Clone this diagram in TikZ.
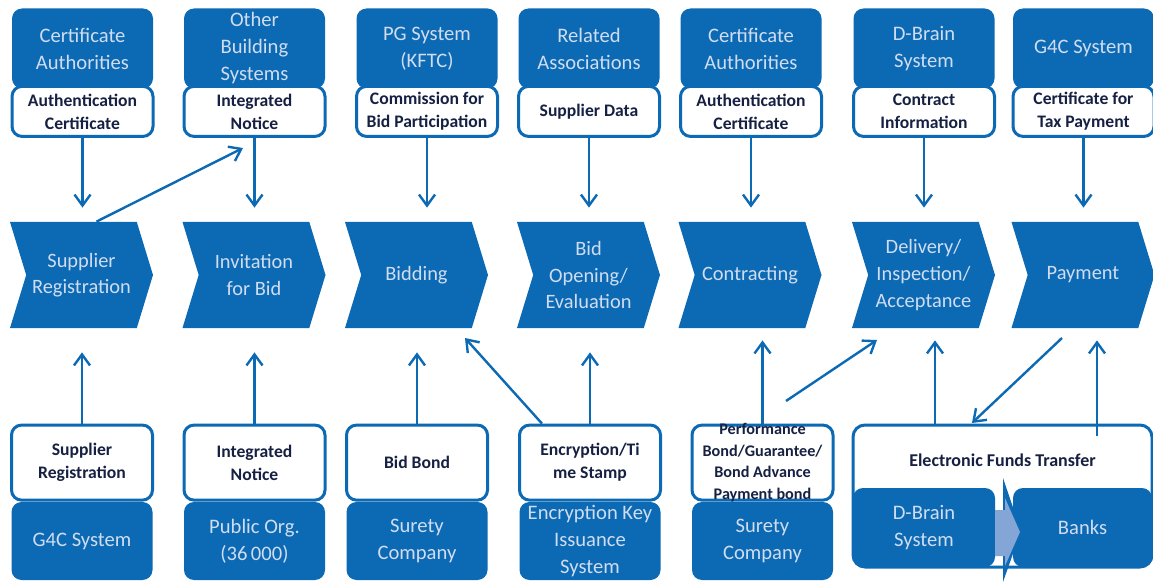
\documentclass[tikz,border=0pt]{standalone}
\usepackage{fontspec}
\setmainfont{Carlito}
\usetikzlibrary{positioning, shapes.symbols, arrows.meta}
\definecolor{procblue}{RGB}{12,105,180}
\definecolor{paletxt}{RGB}{208,221,240}
\definecolor{navytxt}{RGB}{22,32,66}
\definecolor{liteblue}{RGB}{132,166,214}
\tikzstyle{source} = [rectangle, rounded corners=5pt, minimum width=70.5pt, minimum height=40pt, inner sep=0pt, fill=procblue, text=paletxt, align=center, font=\fontsize{10.3}{13.5}\selectfont]
\tikzstyle{sink} = [rectangle, rounded corners=5pt, minimum width=70.5pt, minimum height=39pt, inner sep=0pt, fill=procblue, text=paletxt, align=center, font=\fontsize{10.3}{13.5}\selectfont]
\tikzstyle{flow} = [rectangle, rounded corners=5pt, minimum width=70.5pt, minimum height=25pt, inner sep=0pt, draw=procblue, line width=1.5pt, fill=white, text=navytxt, align=center, font=\fontsize{8.8}{11.5}\selectfont\bfseries]
\tikzstyle{flowtext} = [text=navytxt, align=center, inner sep=0pt, font=\fontsize{8.1}{10.9}\selectfont\bfseries]
\tikzstyle{stage} = [signal, signal to=east, signal from=west, signal pointer angle=146, minimum width=71.5pt, minimum height=53pt, inner sep=0pt, fill=procblue, text=paletxt, align=center, font=\fontsize{10.2}{13.3}\selectfont]
\tikzstyle{arrow} = [line width=1.2pt, draw=procblue, -{Straight Barb[length=5.5pt,width=8pt]}]

\begin{document}
\begin{tikzpicture}[x=0.5pt, y=-0.5pt]
\useasboundingbox (0,0) rectangle (1153,583);
% upper sources and what they hand over
\node (ca1) [source] at (82.5,48.5) {Certificate\\Authorities};
\node (obs) [source] at (254.5,48.5) {Other\\Building\\Systems};
\node (pgs) [source] at (427,48.5) {PG System\\(KFTC)};
\node (rass) [source] at (589,48.5) {Related\\Associations};
\node (ca2) [source] at (751,48.5) {Certificate\\Authorities};
\node (dbr1) [source] at (924,48.5) {D-Brain\\System};
\node (g4c1) [source] at (1083.5,48.5) {G4C System};
\node (auth1) [flow, below=-2pt of ca1] {Authentication\\Certificate};
\node (inot1) [flow, below=-2pt of obs] {Integrated\\Notice};
\node (comm) [flow, below=-2pt of pgs] {Commission for\\Bid Participation};
\node (sdata) [flow, below=-2pt of rass] {Supplier Data};
\node (auth2) [flow, below=-2pt of ca2] {Authentication\\Certificate};
\node (cinfo) [flow, below=-2pt of dbr1] {Contract\\Information};
\node (taxc) [flow, below=-2pt of g4c1] {Certificate for\\Tax Payment};

% process chain
\node (ch1) [stage] at (81.5,275) {Supplier\\Registration};
\node (ch2) [stage] at (254,275) {Invitation\\for Bid};
\node (ch3) [stage] at (416.5,275) {Bidding};
\node (ch4) [stage] at (588.5,275) {Bid\\Opening/\\Evaluation};
\node (ch5) [stage] at (750,275) {Contracting};
\node (ch6) [stage] at (923.5,275) {Delivery/\\Inspection/\\Acceptance};
\node (ch7) [stage] at (1083,275) {Payment};

% lower sources
\node (g4c2) [sink] at (82,541) {G4C System};
\node (porg) [sink] at (254.5,541) {Public Org.\\(36\,000)};
\node (sur1) [sink] at (417,541) {Surety\\Company};
\node (ekey) [sink] at (590,541) {Encryption Key\\Issuance\\System};
\node (sur2) [sink] at (762.5,541) {Surety\\Company};
\node (sreg) [flow, minimum height=37.5pt, above=0pt of g4c2] {Supplier\\Registration};
\node (inot2) [flow, minimum height=37.5pt, above=0pt of porg] {Integrated\\Notice};
\node (bbond) [flow, minimum height=37.5pt, above=0pt of sur1] {Bid Bond};
\node (enc) [flow, minimum height=37.5pt, above=0pt of ekey] {Encryption/Ti\\me Stamp};
\node (perf) [flow, minimum height=37.5pt, above=0pt of sur2, label={[flowtext]center:{Performance\\Bond/Guarantee/\\Bond Advance\\Payment bond}}] {};

% funds transfer
\node (eft) [rectangle, rounded corners=6pt, draw=procblue, line width=1.5pt, fill=white, minimum width=149.5pt, minimum height=71pt, label={[flowtext, font=\fontsize{9}{11}\selectfont\bfseries, yshift=18pt]center:Electronic Funds Transfer}] at (1002.5,496) {};
\node (dbr2) [sink, minimum width=71pt, minimum height=39.5pt] at (924,527.5) {D-Brain\\System};
\fill [procblue] (1003,478) -- (1021,531) -- (1003,582) -- cycle;
\node (bank) [sink, minimum width=69.5pt, minimum height=39.5pt] at (1082.5,527.5) {Banks};
\fill [liteblue] (995,510) -- (1005,510) -- (1005,498) -- (1020,532) -- (1005,566) -- (1005,556) -- (995,556) -- cycle;

% arrows down
\foreach \a/\b in {auth1/ch1, inot1/ch2, comm/ch3, sdata/ch4, auth2/ch5, cinfo/ch6, taxc/ch7}
  \draw [arrow, shorten >=7pt] (\a) -- (\a |- \b.north);
% arrows up
\foreach \a/\b in {sreg/ch1, inot2/ch2, bbond/ch3, enc/ch4}
  \draw [arrow, shorten >=12pt] (\a) -- (\a |- \b.south);
\draw [arrow, shorten >=6pt] (perf) -- (perf |- ch5.south);
\coordinate (eftl) at ([xshift=-33.75pt]eft.north);
\coordinate (eftr) at ([xshift=47.25pt, yshift=-6pt]eft.north);
\draw [arrow, shorten >=6pt] (eftl) -- (eftl |- ch6.south);
\draw [arrow, shorten >=6pt] (eftr) -- (eftr |- ch7.south);

% diagonal arrows
\coordinate (ntip) at (243,148);
\draw [arrow] ([xshift=7.5pt]ch1.north) -- (ntip);
\coordinate (btip) at (465,338);
\draw [arrow] ([xshift=-24pt]enc.north) -- (btip);
\coordinate (dstart) at (786,401);
\coordinate (dtip) at (877,340);
\draw [arrow] (dstart) -- (dtip);
\coordinate (pstart) at (1062,338);
\coordinate (ptip) at (972,423);
\draw [arrow] (pstart) -- (ptip);
\end{tikzpicture}
\end{document}
